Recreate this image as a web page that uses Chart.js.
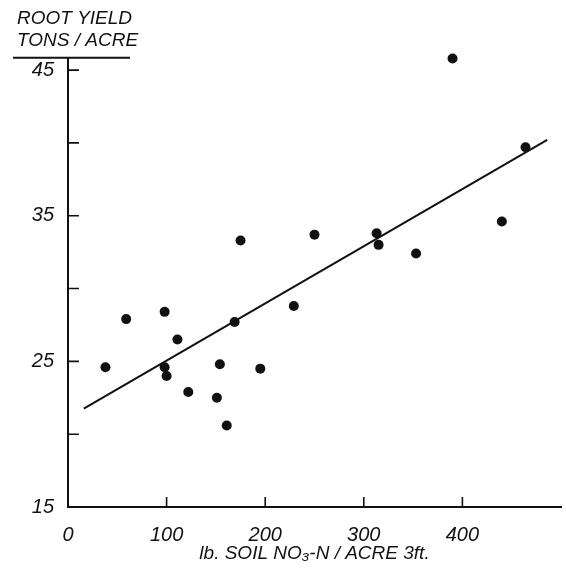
<!DOCTYPE html>
<html>
<head>
<meta charset="utf-8">
<script src="https://cdn.jsdelivr.net/npm/chart.js@4"></script>
<style>
  body { margin: 0; background: #fff; }
</style>
</head>
<body>
<canvas id="myChart" width="566" height="569"></canvas>
<script>
// soil nitrate (lb/acre, 3 ft) vs root yield (tons/acre)
const nitrate_x = [38, 59, 98, 98, 100, 111, 122, 151, 154, 161, 169, 175, 195, 229, 250, 313, 315, 353, 390, 440, 464];
const yield_y = [24.6, 27.9, 28.4, 24.6, 24.0, 26.5, 22.9, 22.5, 24.8, 20.6, 27.7, 33.3, 24.5, 28.8, 33.7, 33.8, 33.0, 32.4, 45.8, 34.6, 39.7];

// fitted line
const fit_x = [16, 486];
const fit_y = [21.75, 40.2];

const x_ticks = [0, 100, 200, 300, 400];
const y_ticks = [15, 20, 25, 30, 35, 40, 45];
const y_labels = [15, 25, 35, 45];

const ink = '#111';
const font_name = '"Liberation Sans", Arial, sans-serif';

let points = [];
for(let i=0; i<nitrate_x.length; i++){
  points.push({x: nitrate_x[i], y: yield_y[i]});
}
let fit_line = [];
for(let i=0; i<fit_x.length; i++){
  fit_line.push({x: fit_x[i], y: fit_y[i]});
}

// tick marks pointing into the plot, plus the short rule under the y title
const inwardTicks = {
  id: 'inwardTicks',
  afterDraw(chart){
    const c = chart.ctx;
    const area = chart.chartArea;
    const xs = chart.scales.x;
    const ys = chart.scales.y;
    c.save();
    c.strokeStyle = ink;
    c.lineWidth = 1.6;
    c.beginPath();
    for(let v of x_ticks){
      if(v == 0) continue;
      let px = xs.getPixelForValue(v);
      c.moveTo(px, area.bottom);
      c.lineTo(px, area.bottom - 10);
    }
    for(let v of y_ticks){
      if(v == 15) continue;
      let py = ys.getPixelForValue(v);
      c.moveTo(area.left, py);
      c.lineTo(area.left + 11, py);
    }
    c.stroke();
    c.lineWidth = 2;
    c.beginPath();
    c.moveTo(13, area.top);
    c.lineTo(130, area.top);
    c.stroke();
    c.restore();
  }
};

const ctx = document.getElementById('myChart');

new Chart(ctx, {
  type: 'scatter',
  data: {
    datasets: [{
      data: points,
      backgroundColor: ink,
      borderColor: ink,
      pointRadius: 5,
      pointHoverRadius: 5,
      borderWidth: 0,
      clip: false
    }, {
      data: fit_line,
      showLine: true,
      borderColor: ink,
      borderWidth: 2,
      pointRadius: 0,
      fill: false,
      clip: false
    }]
  },
  options: {
    responsive: false,
    animation: false,
    layout: { padding: { left: 17, top: 0, right: 0, bottom: 0 } },
    plugins: {
      legend: { display: false },
      tooltip: { enabled: false },
      title: {
        display: true,
        text: ['ROOT YIELD', 'TONS / ACRE'],
        align: 'start',
        color: ink,
        font: { family: font_name, size: 19, style: 'italic', weight: 'normal', lineHeight: 1.15 },
        padding: { top: 8, bottom: 6 }
      }
    },
    scales: {
      x: {
        type: 'linear',
        min: 0,
        max: 500,
        afterBuildTicks: function(scale){
          scale.ticks = x_ticks.map(v => ({value: v}));
        },
        afterFit: function(scale){ scale.height = 62; },
        grid: { display: false },
        border: { color: ink, width: 2 },
        ticks: {
          color: ink,
          padding: 8,
          maxRotation: 0,
          font: { family: font_name, size: 20, style: 'italic' }
        },
        title: {
          display: true,
          text: 'lb. SOIL NO\u2083-N / ACRE 3ft.',
          color: ink,
          font: { family: font_name, size: 19, style: 'italic', lineHeight: 1.2 },
          padding: { top: 0, bottom: 4 }
        }
      },
      y: {
        type: 'linear',
        min: 15,
        max: 45.85,
        afterBuildTicks: function(scale){
          scale.ticks = y_ticks.map(v => ({value: v}));
        },
        afterFit: function(scale){ scale.width = 51; },
        grid: { display: false },
        border: { color: ink, width: 2 },
        ticks: {
          color: ink,
          padding: 6,
          font: { family: font_name, size: 20, style: 'italic' },
          callback: function(value){
            return y_labels.includes(value) ? String(value) : '';
          }
        }
      }
    }
  },
  plugins: [inwardTicks]
});
</script>
</body>
</html>
